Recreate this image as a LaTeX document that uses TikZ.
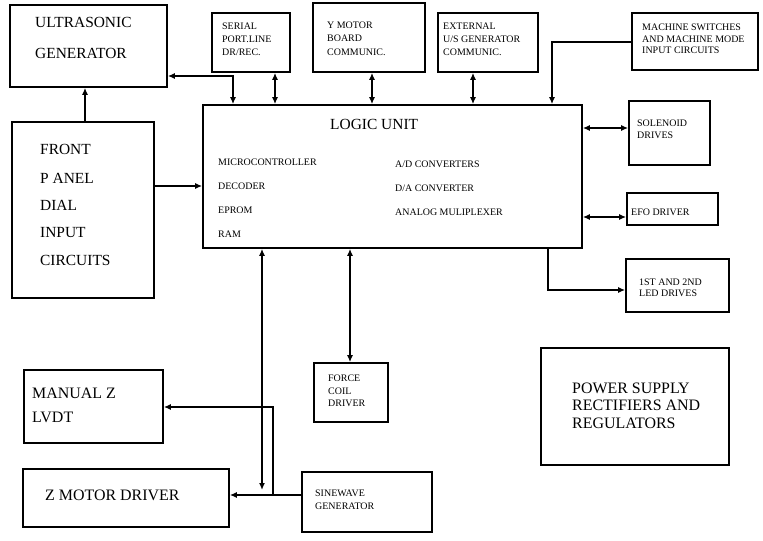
\documentclass[tikz,border=0pt]{standalone}
\usepackage{fontspec}
\setmainfont{Liberation Serif}
\usetikzlibrary{arrows.meta,fit}
\begin{document}
\begin{tikzpicture}[x=1bp,y=-1bp,
  box/.style={draw,line width=1.6bp,inner sep=0pt},
  arr/.style={line width=1.6bp,-{Latex[length=7bp,width=6bp]}},
  darr/.style={line width=1.6bp,{Latex[length=7bp,width=6bp]}-{Latex[length=7bp,width=6bp]}},
  big/.style={anchor=base west,inner sep=0pt,font=\fontsize{15.5}{18}\selectfont},
  ps/.style={anchor=base west,inner sep=0pt,font=\fontsize{16}{18}\selectfont},
  small/.style={anchor=base west,inner sep=0pt,font=\fontsize{10}{12}\selectfont}]
\useasboundingbox (0,0) rectangle (763,541);
% boxes
\node[box,fit={(10,5) (167,87)}] (ug) {};
\node[box,fit={(212,13) (290,72)}] (sp) {};
\node[box,fit={(313,3) (425,72)}] (ym) {};
\node[box,fit={(438,13) (538,72)}] (ext) {};
\node[box,fit={(632,13) (758,70)}] (ms) {};
\node[box,fit={(203,105) (582,248)}] (lu) {};
\node[box,fit={(12,122) (154,298)}] (fp) {};
\node[box,fit={(629,101) (710,165)}] (sol) {};
\node[box,fit={(627,193) (718,225)}] (efo) {};
\node[box,fit={(626,259) (729,312)}] (led) {};
\node[box,fit={(541,348) (729,465)}] (ps) {};
\node[box,fit={(314,363) (388,422)}] (fc) {};
\node[box,fit={(302,472) (432,532)}] (sw) {};
\node[box,fit={(24,370) (163,443)}] (mz) {};
\node[box,fit={(23,469) (229,527)}] (zm) {};
% texts
\node[big] (ug1) at (35,28) {ULTRASONIC};
\node[big] (ug2) at (35,59) {GENERATOR};
\node[big] (fp1) at (40,155) {FRONT};
\node[big] (fp2) at (40,184) {P ANEL};
\node[big] (fp3) at (40,211) {DIAL};
\node[big] (fp4) at (40,238) {INPUT};
\node[big] (fp5) at (40,266) {CIRCUITS};
\node[big] (lu0) at (330,130) {LOGIC UNIT};
\node[small] (lu1) at (218,165.5) {MICROCONTROLLER};
\node[small] (lu2) at (218,189.5) {DECODER};
\node[small] (lu3) at (218,213.5) {EPROM};
\node[small] (lu4) at (218,238) {RAM};
\node[small] (lu5) at (395,167.5) {A/D CONVERTERS};
\node[small] (lu6) at (395,191.5) {D/A CONVERTER};
\node[small] (lu7) at (395,215.5) {ANALOG MULIPLEXER};
\node[small] (sp1) at (222,29.5) {SERIAL};
\node[small] (sp2) at (222,42.5) {PORT.LINE};
\node[small] (sp3) at (222,55.5) {DR/REC.};
\node[small] (ym1) at (327,28.5) {Y MOTOR};
\node[small] (ym2) at (327,41.5) {BOARD};
\node[small] (ym3) at (327,55.5) {COMMUNIC.};
\node[small] (ex1) at (443,29.5) {EXTERNAL};
\node[small] (ex2) at (443,42.5) {U/S GENERATOR};
\node[small] (ex3) at (443,55.5) {COMMUNIC.};
\node[small] (ms1) at (642,30.5) {MACHINE SWITCHES};
\node[small] (ms2) at (642,42.5) {AND MACHINE MODE};
\node[small] (ms3) at (642,54) {INPUT CIRCUITS};
\node[small] (so1) at (637,126.5) {SOLENOID};
\node[small] (so2) at (637,138.5) {DRIVES};
\node[small] (ef1) at (631,215.5) {EFO DRIVER};
\node[small] (le1) at (639,285.5) {1ST AND 2ND};
\node[small] (le2) at (639,297) {LED DRIVES};
\node[small] (fc1) at (328,381.5) {FORCE};
\node[small] (fc2) at (328,394.5) {COIL};
\node[small] (fc3) at (328,406.5) {DRIVER};
\node[small] (sw1) at (315,496.5) {SINEWAVE};
\node[small] (sw2) at (315,509.5) {GENERATOR};
\node[ps] (ps1) at (572,393) {POWER SUPPLY};
\node[ps] (ps2) at (572,410) {RECTIFIERS AND};
\node[ps] (ps3) at (572,428) {REGULATORS};
\node[ps] (mz1) at (32,398) {MANUAL Z};
\node[ps] (mz2) at (32,422) {LVDT};
\node[ps] (zm1) at (45,500) {Z MOTOR DRIVER};
% connectors
\draw[arr] (85,0 |- fp.north) -- (85,0 |- ug.south);
\draw[darr] (ug.east |- 0,76) -| (233,0 |- lu.north);
\draw[darr] (275,0 |- sp.south) -- (275,0 |- lu.north);
\draw[darr] (372,0 |- ym.south) -- (372,0 |- lu.north);
\draw[darr] (473,0 |- ext.south) -- (473,0 |- lu.north);
\draw[arr] (ms.west |- 0,42) -| (552,0 |- lu.north);
\draw[arr] (fp.east |- 0,186) -- (lu.west |- 0,186);
\draw[darr] (lu.east |- 0,128) -- (sol.west |- 0,128);
\draw[darr] (lu.east |- 0,217) -- (efo.west |- 0,217);
\draw[arr] (548,0 |- lu.south) |- (led.west |- 0,290);
\draw[darr] (350,0 |- lu.south) -- (350,0 |- fc.north);
\coordinate (zend) at (262,490);
\draw[darr] (262,0 |- lu.south) -- (zend);
\coordinate (jn) at (273,495);
\draw[arr] (sw.west |- 0,495) -- (zm.east |- 0,495);
\draw[arr] (jn) |- (mz.east |- 0,407);
\end{tikzpicture}
\end{document}
